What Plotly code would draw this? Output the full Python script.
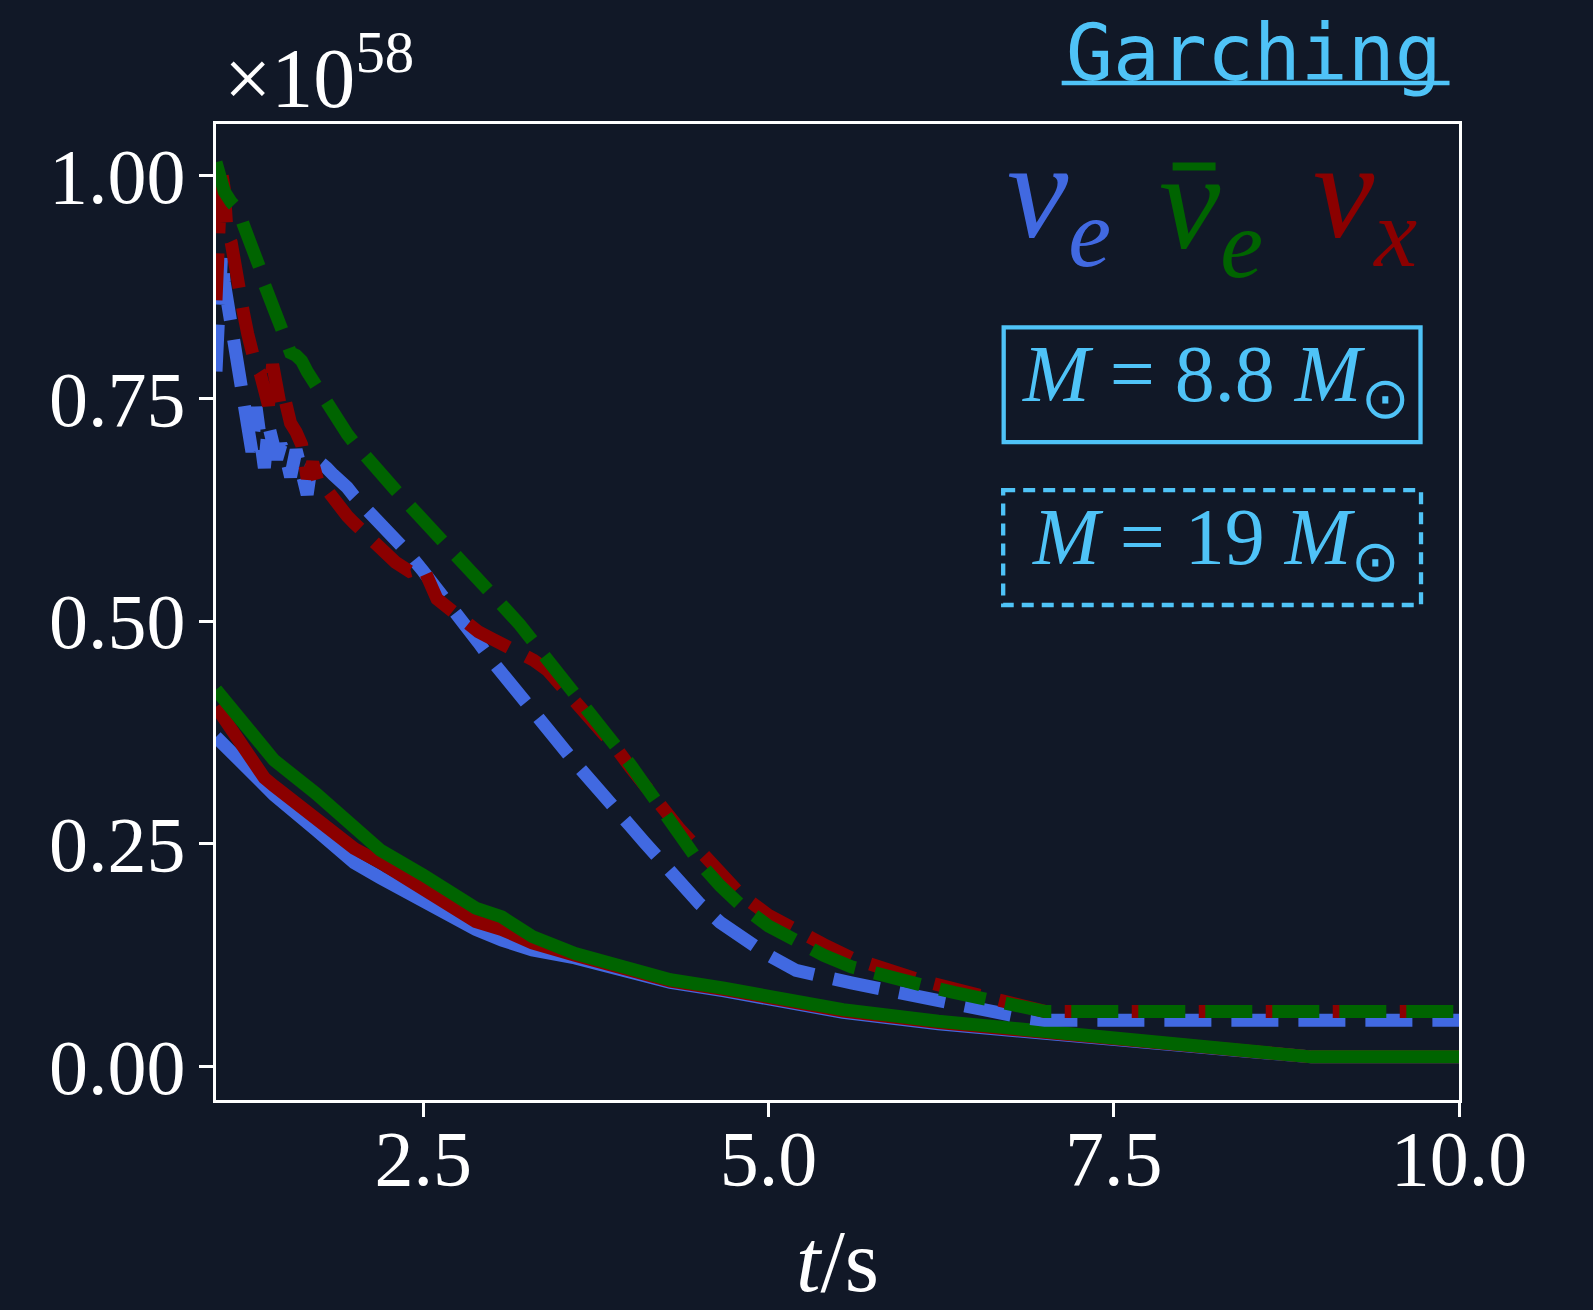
import plotly.graph_objects as go

# Colours
BG = "#111827"
SKY = "#4FC3F7"
C_NUE = "#4169E1"
C_NUEBAR = "#006400"
C_NUX = "#8B0000"

# 8.8 Msun model (solid lines)
t_88 = [1.00, 1.31, 1.35, 1.42, 1.72, 1.86, 2.00, 2.19, 2.50, 2.74, 2.88, 3.07,
        3.29, 3.60, 3.93, 4.29, 4.68, 5.00, 5.54, 6.23, 6.99, 7.96, 8.93, 10.00]
nue_88 = [0.370, 0.320, 0.315, 0.305, 0.266, 0.247, 0.229, 0.212, 0.185, 0.164, 0.154, 0.142,
          0.131, 0.122, 0.109, 0.0945, 0.085, 0.075, 0.061, 0.048, 0.037, 0.023, 0.011, 0.011]
nuebar_88 = [0.423, 0.365, 0.357, 0.344, 0.307, 0.289, 0.270, 0.243, 0.215, 0.193, 0.178, 0.168,
             0.146, 0.127, 0.112, 0.0975, 0.088, 0.078, 0.064, 0.051, 0.040, 0.026, 0.011, 0.011]
nux_88 = [0.404, 0.333, 0.324, 0.315, 0.278, 0.260, 0.245, 0.229, 0.199, 0.176, 0.163, 0.154,
          0.139, 0.125, 0.1105, 0.096, 0.0865, 0.0765, 0.0625, 0.0495, 0.0385, 0.0245, 0.011, 0.011]

# 19 Msun model (dashed lines)
t_19 = [1.00, 1.02, 1.04, 1.06, 1.08, 1.11, 1.14, 1.17, 1.20, 1.23, 1.26, 1.29,
        1.32, 1.35, 1.38, 1.41, 1.44, 1.47, 1.50, 1.54, 1.58, 1.62, 1.66, 1.70,
        1.75, 1.80, 1.85, 1.90, 1.95, 2.00, 2.10, 2.20, 2.30, 2.40, 2.50, 2.60,
        2.70, 2.80, 2.90, 3.00, 3.10, 3.20, 3.30, 3.40, 3.50, 3.60, 3.70, 3.80,
        3.90, 4.00, 4.10, 4.20, 4.35, 4.50, 4.65, 4.80, 5.00, 5.20, 5.40, 5.60,
        5.85, 6.10, 6.35, 6.60, 6.85, 7.00, 7.50, 8.00, 8.50, 9.00, 9.50, 10.00]
nue_19 = [0.780, 0.840, 0.910, 0.880, 0.860, 0.830, 0.800, 0.775, 0.750, 0.720, 0.690, 0.740,
          0.705, 0.672, 0.720, 0.700, 0.682, 0.698, 0.688, 0.662, 0.692, 0.668, 0.642, 0.685,
          0.680, 0.672, 0.664, 0.658, 0.650, 0.640, 0.625, 0.610, 0.594, 0.575, 0.556, 0.537,
          0.517, 0.498, 0.476, 0.455, 0.437, 0.416, 0.398, 0.380, 0.360, 0.341, 0.322, 0.305,
          0.288, 0.270, 0.252, 0.234, 0.210, 0.183, 0.162, 0.145, 0.125, 0.108, 0.100, 0.094,
          0.086, 0.078, 0.070, 0.061, 0.055, 0.052, 0.052, 0.052, 0.052, 0.052, 0.052, 0.052]
nuebar_19 = [1.015, 1.008, 0.993, 0.982, 0.975, 0.970, 0.965, 0.958, 0.944, 0.932, 0.925, 0.912,
             0.895, 0.878, 0.862, 0.850, 0.842, 0.830, 0.815, 0.801, 0.798, 0.792, 0.780, 0.770,
             0.756, 0.741, 0.730, 0.720, 0.710, 0.700, 0.681, 0.664, 0.647, 0.630, 0.614, 0.598,
             0.582, 0.566, 0.550, 0.532, 0.513, 0.496, 0.477, 0.458, 0.439, 0.419, 0.399, 0.379,
             0.359, 0.339, 0.317, 0.294, 0.261, 0.229, 0.203, 0.181, 0.158, 0.140, 0.125, 0.112,
             0.101, 0.092, 0.083, 0.075, 0.066, 0.062, 0.062, 0.062, 0.062, 0.062, 0.062, 0.062]
nux_19 = [0.860, 0.950, 1.005, 0.985, 0.935, 0.925, 0.890, 0.868, 0.845, 0.822, 0.800, 0.785,
          0.778, 0.760, 0.742, 0.788, 0.752, 0.738, 0.748, 0.722, 0.712, 0.698, 0.660, 0.678,
          0.650, 0.648, 0.638, 0.626, 0.618, 0.610, 0.594, 0.578, 0.566, 0.556, 0.560, 0.525,
          0.512, 0.500, 0.488, 0.480, 0.473, 0.465, 0.456, 0.445, 0.428, 0.410, 0.392, 0.375,
          0.357, 0.336, 0.316, 0.297, 0.268, 0.243, 0.218, 0.193, 0.170, 0.152, 0.137, 0.122,
          0.108, 0.097, 0.087, 0.078, 0.067, 0.062, 0.062, 0.062, 0.062, 0.062, 0.062, 0.062]

xtick_vals = [2.5, 5.0, 7.5, 10.0]
xtick_text = ["2.5", "5.0", "7.5", "10.0"]
ytick_vals = [0.0, 0.25, 0.5, 0.75, 1.0]
ytick_text = ["0.00", "0.25", "0.50", "0.75", "1.00"]

# Page geometry (pixels); the plot area sits just inside the frame lines
W, H = 1593, 1310
L, R, T, B = 216.0, 1459.5, 123.5, 1100.5


def px(x):
    return (x - L) / (R - L)


def py(y):
    return (B - y) / (B - T)


SERIF = "Liberation Serif"
LW = 13

fig = go.Figure()

for vals, color in [(nue_88, C_NUE), (nux_88, C_NUX), (nuebar_88, C_NUEBAR)]:
    fig.add_trace(go.Scatter(x=t_88, y=vals, mode="lines",
                             line=dict(color=color, width=LW),
                             hoverinfo="skip"))

for vals, color in [(nue_19, C_NUE), (nux_19, C_NUX), (nuebar_19, C_NUEBAR)]:
    fig.add_trace(go.Scatter(x=t_19, y=vals, mode="lines",
                             line=dict(color=color, width=LW, dash="47px,20px"),
                             hoverinfo="skip"))

axis_common = dict(
    showline=True, linecolor="white", linewidth=3, mirror=True,
    ticks="outside", ticklen=14, tickwidth=3, tickcolor="white",
    showgrid=False, zeroline=False, automargin=False,
    tickfont=dict(family=SERIF, size=78, color="white"),
)

fig.update_xaxes(range=[1.0, 10.0], tickvals=xtick_vals, ticktext=xtick_text,
                 ticklabelstandoff=-26,
                 title=dict(text="<i>t</i>/s", font=dict(family=SERIF, size=88, color="white"),
                            standoff=30),
                 **axis_common)
fig.update_yaxes(range=[-0.0374, 1.0578], tickvals=ytick_vals, ticktext=ytick_text,
                 ticklabelstandoff=-2,
                 **axis_common)

annotations = []
# Offset multiplier
annotations.append(dict(xref="paper", yref="paper", x=px(222), y=py(72),
                        xanchor="left", yanchor="middle", showarrow=False,
                        text="×10<sup>58</sup>",
                        font=dict(family=SERIF, size=84, color="white")))
# Source label
annotations.append(dict(xref="paper", yref="paper", x=px(1254), y=py(52),
                        xanchor="center", yanchor="middle", showarrow=False,
                        text="Garching",
                        font=dict(family="DejaVu Sans Mono", size=78, color=SKY)))
# Flavour labels
for text, color, xl, yc in [("ν<sub>e</sub>", C_NUE, 1005, 200),
                            ("ν<sub>e</sub>", C_NUEBAR, 1157, 211),
                            ("ν<sub>x</sub>", C_NUX, 1311, 200)]:
    annotations.append(dict(xref="paper", yref="paper", x=px(xl), y=py(yc),
                            xanchor="left", yanchor="middle", showarrow=False,
                            text=text,
                            font=dict(family=SERIF, size=138, color=color, style="italic")))
# Mass labels
SUN = "<sub><span style='font-size:58px'>⊙</span></sub>"
annotations.append(dict(xref="paper", yref="paper", x=px(1216), y=py(380),
                        xanchor="center", yanchor="middle", showarrow=False,
                        text="<i>M</i> = 8.8 <i>M</i>" + SUN,
                        font=dict(family=SERIF, size=80, color=SKY)))
annotations.append(dict(xref="paper", yref="paper", x=px(1216), y=py(543),
                        xanchor="center", yanchor="middle", showarrow=False,
                        text="<i>M</i> = 19 <i>M</i>" + SUN,
                        font=dict(family=SERIF, size=80, color=SKY)))

shapes = [
    # underline of the source label
    dict(type="line", xref="paper", yref="paper", x0=px(1062), x1=px(1450),
         y0=py(82.5), y1=py(82.5), line=dict(color=SKY, width=4.5)),
    # bar of the antineutrino symbol
    dict(type="line", xref="paper", yref="paper", x0=px(1173), x1=px(1216),
         y0=py(166), y1=py(166), line=dict(color=C_NUEBAR, width=8)),
    dict(type="rect", xref="paper", yref="paper", x0=px(1004), x1=px(1421),
         y0=py(327), y1=py(442), line=dict(color=SKY, width=4.3)),
    dict(type="rect", xref="paper", yref="paper", x0=px(1003.5), x1=px(1421.5),
         y0=py(490), y1=py(605), line=dict(color=SKY, width=4.3, dash="12px,8px")),
]

fig.update_layout(
    width=W, height=H,
    margin=dict(l=L, r=W - R, t=T, b=H - B, pad=0),
    paper_bgcolor=BG, plot_bgcolor=BG,
    showlegend=False,
    annotations=annotations,
    shapes=shapes,
)

fig.write_html("out.html")
